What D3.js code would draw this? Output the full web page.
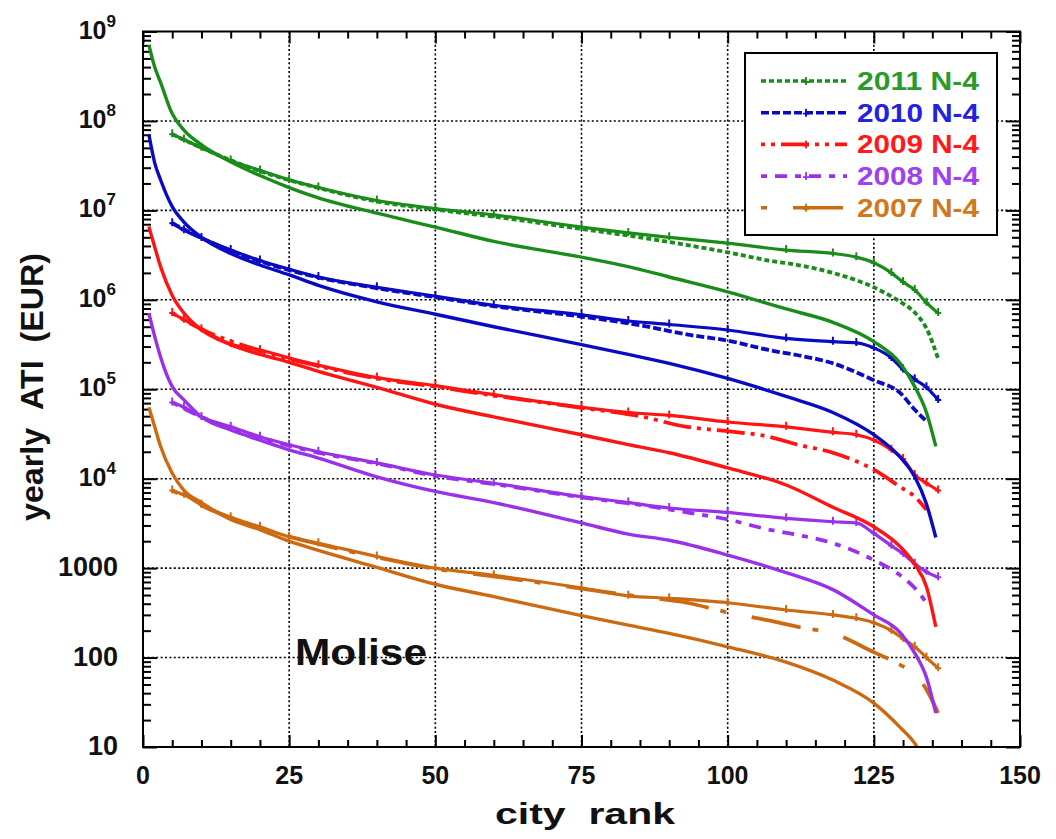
<!DOCTYPE html>
<html>
<head>
<meta charset="utf-8">
<script src="https://cdn.jsdelivr.net/npm/d3@7"></script>
<style>
  html, body { margin: 0; padding: 0; background: #ffffff; }
  svg text { font-family: "Liberation Sans", Arial, Helvetica, sans-serif; font-weight: bold; }
</style>
</head>
<body>
<svg id="chart" width="1056" height="839"></svg>
<script>
// ---------------- DATA ----------------
const years = ["2011", "2010", "2009", "2008", "2007"];
const legendLabels = ["2011 N-4", "2010 N-4", "2009 N-4", "2008 N-4", "2007 N-4"];

// solid curves (rank ordering of the year itself)
const solidRanks = [1, 2, 3, 5, 7, 10, 15, 20, 25, 30, 40, 50, 60, 75, 83, 90, 100, 110, 118, 125, 129.5, 132, 134, 135.6];
const solid2011 = [7.1e8, 4.0e8, 2.7e8, 1.2e8, 7.9e7, 5.4e7, 3.5e7, 2.45e7, 1.8e7, 1.38e7, 9.3e6, 6.5e6, 4.5e6, 3.0e6, 2.35e6, 1.8e6, 1.23e6, 7.9e5, 5.6e5, 3.4e5, 1.95e5, 1.07e5, 5.5e4, 2.3e4];
const solid2010 = [7.1e7, 3.4e7, 2.2e7, 1.1e7, 7.4e6, 5.0e6, 3.3e6, 2.45e6, 1.9e6, 1.45e6, 9.5e5, 6.9e5, 5.0e5, 3.16e5, 2.45e5, 1.95e5, 1.32e5, 8.3e4, 5.5e4, 3.1e4, 1.74e4, 1.05e4, 5.2e3, 2.2e3];
const solid2009 = [6.6e6, 3.9e6, 2.35e6, 1.12e6, 7.1e5, 4.6e5, 3.16e5, 2.45e5, 2.0e5, 1.58e5, 1.05e5, 6.8e4, 4.9e4, 3.1e4, 2.4e4, 1.95e4, 1.32e4, 8.5e3, 4.8e3, 2.9e3, 1.74e3, 1.1e3, 620, 220];
const solid2008 = [7.1e5, 3.9e5, 2.3e5, 1.07e5, 7.6e4, 4.9e4, 3.5e4, 2.7e4, 2.1e4, 1.7e4, 1.05e4, 7.2e3, 5.4e3, 3.2e3, 2.4e3, 2.05e3, 1.4e3, 890, 575, 300, 190, 112, 60, 24];
const solid2007 = [6.3e4, 3.8e4, 2.3e4, 1.15e4, 7.4e3, 5.4e3, 3.5e3, 2.7e3, 2.0e3, 1.58e3, 1.02e3, 660, 480, 295, 230, 186, 132, 89, 56, 31, 16.6, 11, 6.5, null];

// N-4 curves drawn with markers
const markerRanks = [5, 7, 10, 15, 20, 25, 30, 40, 50, 60, 75, 83, 90, 100, 110, 118, 122, 125, 128, 130, 132, 134, 136];
const marker2011 = [7.1e7, 6.2e7, 5.0e7, 3.6e7, 2.8e7, 2.2e7, 1.8e7, 1.29e7, 1.05e7, 8.9e6, 6.5e6, 5.6e6, 5.0e6, 4.3e6, 3.6e6, 3.3e6, 3.0e6, 2.6e6, 2.0e6, 1.58e6, 1.29e6, 9.3e5, 7.1e5];
const marker2010 = [7.2e6, 6.0e6, 4.9e6, 3.6e6, 2.75e6, 2.2e6, 1.8e6, 1.38e6, 1.1e6, 8.7e5, 6.8e5, 5.8e5, 5.3e5, 4.6e5, 3.7e5, 3.4e5, 3.3e5, 2.9e5, 2.24e5, 1.66e5, 1.29e5, 1.05e5, 7.6e4];
const marker2009 = [7.1e5, 6.0e5, 4.7e5, 3.2e5, 2.75e5, 2.24e5, 1.86e5, 1.35e5, 1.1e5, 8.7e4, 6.3e4, 5.5e4, 5.1e4, 4.3e4, 3.8e4, 3.3e4, 3.1e4, 2.7e4, 2.1e4, 1.66e4, 1.1e4, 8.9e3, 7.4e3];
const marker2008 = [7.1e4, 6.3e4, 4.9e4, 3.8e4, 2.95e4, 2.4e4, 2.0e4, 1.5e4, 1.1e4, 8.9e3, 6.3e3, 5.4e3, 4.7e3, 4.2e3, 3.6e3, 3.3e3, 3.2e3, 2.45e3, 1.78e3, 1.45e3, 1.12e3, 910, 790];
const marker2007 = [7.4e3, 6.6e3, 5.1e3, 3.7e3, 2.9e3, 2.24e3, 1.9e3, 1.35e3, 1.0e3, 830, 600, 490, 460, 410, 340, 300, 275, 245, 200, 162, 132, 100, 76];

// N-4 curves drawn dashed
const dashRanks = [5, 10, 20, 30, 40, 50, 60, 75, 85, 93, 100, 107, 112, 118, 125, 129.5, 132, 134, 136];
const dashed2011 = [7.1e7, 5.0e7, 2.75e7, 1.78e7, 1.26e7, 1.02e7, 8.5e6, 6.2e6, 5.0e6, 4.1e6, 3.4e6, 2.75e6, 2.45e6, 2.0e6, 1.38e6, 9.5e5, 7.2e5, 4.8e5, 2.2e5];
const dashed2010 = [7.2e6, 4.9e6, 2.7e6, 1.78e6, 1.35e6, 1.07e6, 8.5e5, 6.5e5, 5.2e5, 4.1e5, 3.5e5, 2.75e5, 2.4e5, 1.95e5, 1.26e5, 9.1e4, 5.9e4, 4.4e4, null];
const dashed2009 = [7.1e5, 4.7e5, 2.7e5, 1.82e5, 1.32e5, 1.07e5, 8.5e4, 6.2e4, 5.0e4, 3.8e4, 3.4e4, 2.95e4, 2.4e4, 1.95e4, 1.26e4, 8.1e3, 6.3e3, 4.5e3, null];
const dashed2008 = [7.1e4, 4.9e4, 2.9e4, 1.95e4, 1.48e4, 1.07e4, 8.7e3, 6.2e3, 5.1e3, 4.2e3, 3.5e3, 2.7e3, 2.35e3, 1.9e3, 1.23e3, 830, 600, 410, null];
const dashed2007 = [7.4e3, 5.0e3, 2.8e3, 1.86e3, 1.32e3, 980, 810, 590, 480, 410, 320, 260, 220, 186, 115, 83, 66, 44, 24];

// axis ticks
const xTicks = [0, 25, 50, 75, 100, 125, 150];
const xTickLabels = ["0", "25", "50", "75", "100", "125", "150"];
const yTicks = [10, 100, 1000, 1e4, 1e5, 1e6, 1e7, 1e8, 1e9];
const yTickLabels = ["10", "100", "1000", "10^4", "10^5", "10^6", "10^7", "10^8", "10^9"];

// ---------------- STYLE ----------------
const colors = ["#1a8c1a", "#0a0ac4", "#ff1414", "#9a30e8", "#cc6a12"];
const textColors = ["#2a9a2a", "#2222e4", "#ff1a1a", "#a040f0", "#d07820"];
const dashes = ["5,3", "8,3", "4,6,4,6,28,6", "6,8,12,8", "6,26,50,12"];

const solids = [solid2011, solid2010, solid2009, solid2008, solid2007];
const markers = [marker2011, marker2010, marker2009, marker2008, marker2007];
const dasheds = [dashed2011, dashed2010, dashed2009, dashed2008, dashed2007];

// ---------------- LAYOUT ----------------
const svg = d3.select("#chart");
const L = 143, R = 1020, T = 31.5, B = 747;
const x = d3.scaleLinear().domain([0, 150]).range([L, R]);
const y = d3.scaleLog().domain([10, 1e9]).range([B, T]);

svg.append("defs").append("clipPath").attr("id", "plotclip")
  .append("rect").attr("x", L).attr("y", T).attr("width", R - L).attr("height", B - T);

// grid lines (dotted)
const grid = svg.append("g");
grid.selectAll("line.gx").data(xTicks.slice(1, -1)).join("line")
  .attr("x1", d => x(d)).attr("x2", d => x(d)).attr("y1", T).attr("y2", B)
  .attr("stroke", "#000").attr("stroke-width", 1.6).attr("stroke-dasharray", "2,2.4");
grid.selectAll("line.gy").data(yTicks.slice(1, -1)).join("line")
  .attr("y1", d => y(d)).attr("y2", d => y(d)).attr("x1", L).attr("x2", R)
  .attr("stroke", "#000").attr("stroke-width", 1.6).attr("stroke-dasharray", "2,2.4");

// minor ticks values
const xMinor = d3.range(5, 150, 5).filter(v => v % 25 !== 0);
const yMinor = [];
for (let e = 1; e < 9; e++) for (let m = 2; m <= 9; m++) yMinor.push(m * Math.pow(10, e));

function styleAxis(g) {
  g.select(".domain").remove();
  g.selectAll(".tick line").attr("stroke", "#000").attr("stroke-width", 2);
}
svg.append("g").attr("transform", `translate(0,${B})`)
  .call(d3.axisBottom(x).tickValues(xTicks).tickSize(-12).tickFormat("")).call(styleAxis);
svg.append("g").attr("transform", `translate(0,${B})`)
  .call(d3.axisBottom(x).tickValues(xMinor).tickSize(-7).tickFormat("")).call(styleAxis);
svg.append("g").attr("transform", `translate(0,${T})`)
  .call(d3.axisTop(x).tickValues(xTicks).tickSize(-12).tickFormat("")).call(styleAxis);
svg.append("g").attr("transform", `translate(0,${T})`)
  .call(d3.axisTop(x).tickValues(xMinor).tickSize(-7).tickFormat("")).call(styleAxis);
svg.append("g").attr("transform", `translate(${L},0)`)
  .call(d3.axisLeft(y).tickValues(yTicks).tickSize(-14).tickFormat("")).call(styleAxis);
svg.append("g").attr("transform", `translate(${L},0)`)
  .call(d3.axisLeft(y).tickValues(yMinor).tickSize(-8).tickFormat("")).call(styleAxis);
svg.append("g").attr("transform", `translate(${R},0)`)
  .call(d3.axisRight(y).tickValues(yTicks).tickSize(-14).tickFormat("")).call(styleAxis);
svg.append("g").attr("transform", `translate(${R},0)`)
  .call(d3.axisRight(y).tickValues(yMinor).tickSize(-8).tickFormat("")).call(styleAxis);

// ---------------- CURVES ----------------
const plot = svg.append("g").attr("clip-path", "url(#plotclip)");
const line = d3.line().defined(d => d[1] != null)
  .x(d => x(d[0])).y(d => y(d[1])).curve(d3.curveMonotoneX);
const markerPath = "M-3,0H3M0,-5V3";

for (let i = 4; i >= 0; i--) {
  const sPts = solidRanks.map((r, k) => [r, solids[i][k]]);
  const mPts = markerRanks.map((r, k) => [r, markers[i][k]]);
  const dPts = dashRanks.map((r, k) => [r, dasheds[i][k]]);

  plot.append("path").datum(dPts).attr("d", line)
    .attr("fill", "none").attr("stroke", colors[i]).attr("stroke-width", 3.8)
    .attr("stroke-dasharray", dashes[i]);
  plot.append("path").datum(mPts).attr("d", line)
    .attr("fill", "none").attr("stroke", colors[i]).attr("stroke-width", 3.2);
  plot.selectAll(null).data(mPts).join("path")
    .attr("d", markerPath)
    .attr("transform", d => `translate(${x(d[0])},${y(d[1])})`)
    .attr("fill", "none").attr("stroke", colors[i]).attr("stroke-width", 2);
  plot.append("path").datum(sPts).attr("d", line)
    .attr("fill", "none").attr("stroke", colors[i]).attr("stroke-width", 3.4);
}

// frame
svg.append("rect").attr("x", L).attr("y", T).attr("width", R - L).attr("height", B - T)
  .attr("fill", "none").attr("stroke", "#000").attr("stroke-width", 2);

// ---------------- TICK LABELS ----------------
svg.selectAll("text.xl").data(xTicks).join("text")
  .attr("x", d => x(d)).attr("y", 784)
  .attr("text-anchor", "middle").attr("font-size", 25).attr("fill", "#111")
  .text((d, i) => xTickLabels[i]);

yTicks.forEach((v, i) => {
  const lab = yTickLabels[i];
  if (lab.indexOf("^") >= 0) {
    const [base, exp] = lab.split("^");
    const t = svg.append("text").attr("x", 116).attr("y", y(v) + 7)
      .attr("text-anchor", "end").attr("fill", "#111");
    t.append("tspan").attr("font-size", 25).text(base);
    t.append("tspan").attr("font-size", 17).attr("dy", -12).text(exp);
  } else {
    svg.append("text").attr("x", 118).attr("y", y(v) + 8)
      .attr("text-anchor", "end").attr("font-size", 27).attr("fill", "#111").text(lab);
  }
});

// axis titles
svg.append("text").attr("x", 585).attr("y", 824).attr("text-anchor", "middle")
  .attr("font-size", 30).attr("fill", "#111")
  .attr("textLength", 180).attr("lengthAdjust", "spacingAndGlyphs")
  .text("city\u00a0\u00a0rank");
svg.append("text").attr("transform", "translate(43,387) rotate(-90)")
  .attr("text-anchor", "middle").attr("font-size", 31).attr("fill", "#111")
  .attr("textLength", 268).attr("lengthAdjust", "spacingAndGlyphs")
  .text("yearly\u00a0\u00a0ATI\u00a0\u00a0(EUR)");

// region label
svg.append("text").attr("x", 295).attr("y", 665).attr("font-size", 37).attr("fill", "#111")
  .attr("textLength", 132).attr("lengthAdjust", "spacingAndGlyphs").text("Molise");

// ---------------- LEGEND ----------------
const lg = svg.append("g");
lg.append("rect").attr("x", 745).attr("y", 53).attr("width", 252).attr("height", 182)
  .attr("fill", "#fff").attr("stroke", "#000").attr("stroke-width", 2);
legendLabels.forEach((lab, i) => {
  const by = 90 + i * 31.7;
  const cy = by - 9;
  lg.append("line").attr("x1", 761).attr("x2", 847).attr("y1", cy).attr("y2", cy)
    .attr("stroke", colors[i]).attr("stroke-width", 3.6).attr("stroke-dasharray", dashes[i]);
  lg.append("path").attr("d", markerPath).attr("transform", `translate(806,${cy + 1})`)
    .attr("fill", "none").attr("stroke", colors[i]).attr("stroke-width", 1.8);
  lg.append("text").attr("x", 857).attr("y", by).attr("font-size", 25)
    .attr("fill", textColors[i]).attr("textLength", 122).attr("lengthAdjust", "spacingAndGlyphs")
    .text(lab);
});
</script>
</body>
</html>
